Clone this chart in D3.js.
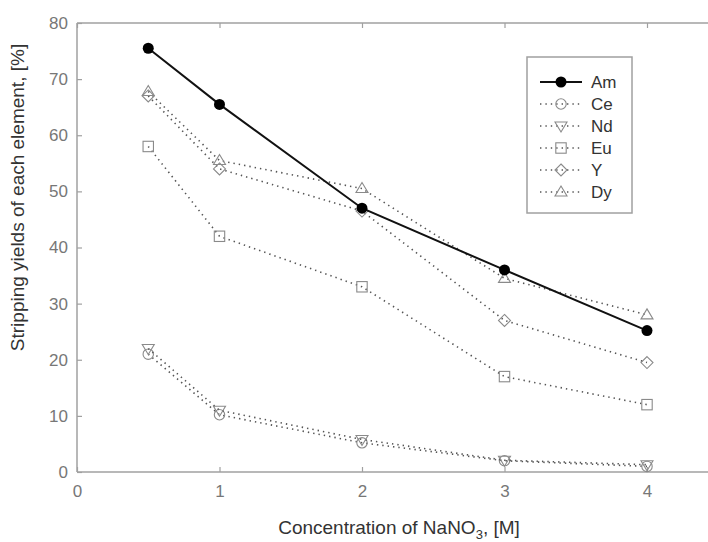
<!DOCTYPE html>
<html><head><meta charset="utf-8">
<script src="https://cdn.jsdelivr.net/npm/d3@7"></script>
<style>body{margin:0;background:#fff}svg{display:block}</style>
</head><body>
<svg id="c" width="708" height="542"></svg>
<script>
const concentrations = [0.5, 1, 2, 3, 4];
const seriesNames = ["Am", "Ce", "Nd", "Eu", "Y", "Dy"];
const amValues = [75.5, 65.5, 47, 36, 25.2];
const ceValues = [21, 10.2, 5.2, 2, 1];
const ndValues = [22, 11, 5.8, 2.1, 1.3];
const euValues = [58, 42, 33, 17, 12];
const yValues  = [67, 54, 46.5, 27, 19.5];
const dyValues = [67.8, 55.5, 50.5, 34.5, 28];
const xTicks = [0, 1, 2, 3, 4];
const yTicks = [0, 10, 20, 30, 40, 50, 60, 70, 80];

(function () {
const values = {Am: amValues, Ce: ceValues, Nd: ndValues, Eu: euValues, Y: yValues, Dy: dyValues};
const markers = {Am: "fcircle", Ce: "circle", Nd: "tri_down", Eu: "square", Y: "diamond", Dy: "tri_up"};

const svg = d3.select("#c");
const W = 708;
const pLeft = 77, pTop = 23, pBottom = 472;
const x = d3.scaleLinear().domain([0, 4]).range([pLeft, 647]);
const y = d3.scaleLinear().domain([0, 80]).range([pBottom, pTop]);
const font = "'Liberation Sans', Arial, sans-serif";
const axisCol = "#a0a0a0";

svg.append("line").attr("x1", pLeft).attr("x2", W).attr("y1", pBottom).attr("y2", pBottom).attr("stroke", axisCol).attr("stroke-width", 1.5);
svg.append("line").attr("x1", pLeft).attr("x2", W).attr("y1", pTop).attr("y2", pTop).attr("stroke", axisCol).attr("stroke-width", 1.5);
svg.append("line").attr("x1", pLeft).attr("x2", pLeft).attr("y1", pTop).attr("y2", pBottom).attr("stroke", axisCol).attr("stroke-width", 1.5);

const xAxis = svg.append("g").attr("transform", `translate(0,${pBottom})`)
  .call(d3.axisBottom(x).tickValues(xTicks).tickSize(-5).tickPadding(13).tickFormat(d3.format("d")));
const xTopAxis = svg.append("g").attr("transform", `translate(0,${pTop})`)
  .call(d3.axisTop(x).tickValues(xTicks).tickSize(-5).tickFormat(""));
const yAxis = svg.append("g").attr("transform", `translate(${pLeft},0)`)
  .call(d3.axisLeft(y).tickValues(yTicks).tickSize(-5).tickPadding(9).tickFormat(d3.format("d")));
[xAxis, xTopAxis, yAxis].forEach(g => {
  g.select(".domain").remove();
  g.selectAll(".tick line").attr("stroke", axisCol).attr("stroke-width", 1.2);
  g.selectAll(".tick text").attr("fill", "#777").style("font-family", font).style("font-size", "17px");
});

const xt = svg.append("text").attr("x", 399).attr("y", 534).attr("text-anchor", "middle")
  .attr("fill", "#333").style("font-family", font).style("font-size", "19px");
xt.append("tspan").text("Concentration of NaNO");
xt.append("tspan").text("3").attr("dy", 5).style("font-size", "13px");
xt.append("tspan").text(", [M]").attr("dy", -5);

svg.append("text").attr("transform", `translate(24,${(pTop + pBottom) / 2 - 50}) rotate(-90)`)
  .attr("text-anchor", "middle").attr("fill", "#333")
  .style("font-family", font).style("font-size", "19px")
  .text("Stripping yields of each element, [%]");

function drawMarker(g, type, cx, cy, col) {
  const s = 5.2;
  if (type === "fcircle") {
    g.append("circle").attr("cx", cx).attr("cy", cy).attr("r", 5.5).attr("fill", "#000");
  } else if (type === "circle") {
    g.append("circle").attr("cx", cx).attr("cy", cy).attr("r", s).attr("fill", "none").attr("stroke", col).attr("stroke-width", 1.1);
  } else if (type === "square") {
    g.append("rect").attr("x", cx - s).attr("y", cy - s).attr("width", 2 * s).attr("height", 2 * s).attr("fill", "none").attr("stroke", col).attr("stroke-width", 1.1);
  } else {
    let pts;
    if (type === "diamond") pts = [[0, -6], [6, 0], [0, 6], [-6, 0]];
    else if (type === "tri_up") pts = [[0, -6], [6, 4], [-6, 4]];
    else pts = [[-6, -4], [6, -4], [0, 6]];
    g.append("polygon").attr("points", pts.map(p => [cx + p[0], cy + p[1]].join(",")).join(" "))
      .attr("fill", "none").attr("stroke", col).attr("stroke-width", 1.1);
  }
}

const line = d3.line().x((d, i) => x(concentrations[i])).y(d => y(d));
const markCol = "#8a8a8a";
seriesNames.slice(1).concat(["Am"]).forEach(name => {
  const g = svg.append("g");
  const isAm = name === "Am";
  g.append("path").datum(values[name]).attr("d", line).attr("fill", "none")
    .attr("stroke", isAm ? "#111" : "#555").attr("stroke-width", isAm ? 2 : 1.6)
    .attr("stroke-dasharray", isAm ? null : "1.4,4");
  values[name].forEach((v, i) => drawMarker(g, markers[name], x(concentrations[i]), y(v), markCol));
});

const lg = svg.append("g");
lg.append("rect").attr("x", 527).attr("y", 57).attr("width", 105).attr("height", 156)
  .attr("fill", "#fff").attr("stroke", axisCol).attr("stroke-width", 1.5);
seriesNames.forEach((name, i) => {
  const ly = 82 + i * 22;
  const isAm = name === "Am";
  lg.append("line").attr("x1", 540).attr("x2", 582).attr("y1", ly).attr("y2", ly)
    .attr("stroke", isAm ? "#111" : "#555").attr("stroke-width", isAm ? 2 : 1.6)
    .attr("stroke-dasharray", isAm ? null : "1.4,4");
  drawMarker(lg, markers[name], 561, ly, markCol);
  lg.append("text").attr("x", 591).attr("y", ly + 6).attr("fill", "#333")
    .style("font-family", font).style("font-size", "17px").text(name);
});
})();
</script>
</body></html>
